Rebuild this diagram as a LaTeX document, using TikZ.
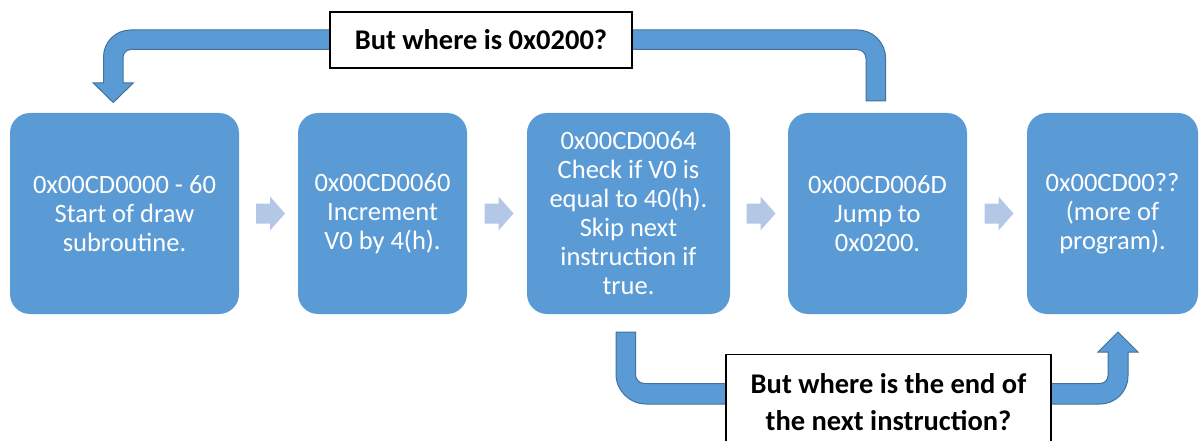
\documentclass[tikz,border=0pt]{standalone}
\usepackage{fontspec}
\setmainfont{Carlito}
\usetikzlibrary{calc}
\definecolor{boxblue}{HTML}{5B9BD5}
\definecolor{edgeblue}{HTML}{41719C}
\definecolor{chevblue}{HTML}{B4C7E7}
\begin{document}
\begin{tikzpicture}[x=1pt,y=-1pt,
  stepbox/.style={fill=boxblue, rounded corners=20pt, minimum height=201pt,
    text=white, align=center, inner sep=0pt,
    font=\fontsize{26.5}{29}\selectfont},
  uarrow/.style={fill=boxblue, draw=edgeblue, line width=1pt, line join=miter},
  note/.style={draw=black, line width=1.3pt, fill=white, align=center,
    inner sep=0pt, font=\bfseries\fontsize{28.5}{37}\selectfont},
  chev/.pic={\fill[chevblue] (-13.5,-10) -- (0.5,-10) -- (0.5,-17) -- (15.5,0)
    -- (0.5,17) -- (0.5,10) -- (-13.5,10) -- cycle;}]
\useasboundingbox (0,0) rectangle (1200,441);
\clip (0,0) rectangle (1200,441);

% program steps
\node[stepbox, minimum width=229pt] (b1) at (124.5,213.5)
  {0x00CD0000 - 60\\Start of draw\\subroutine.};
\node[stepbox, minimum width=169pt] (b2) at (382.5,213.5)
  {0x00CD0060\\Increment\\V0 by 4(h).};
\node[stepbox, minimum width=203pt] (b3) at (628.5,213.5)
  {0x00CD0064\\Check if V0 is\\equal to 40(h).\\Skip next\\instruction if\\true.};
\node[stepbox, minimum width=179pt] (b4) at (877.5,213.5)
  {0x00CD006D\\Jump to\\0x0200.};
\node[stepbox, minimum width=171pt] (b5) at (1112.5,213.5)
  {0x00CD00??\\(more of\\program).};

% flow chevrons between steps
\pic at ($(b1.east)!0.5!(b2.west)+(1,0)$) {chev};
\pic at ($(b2.east)!0.5!(b3.west)+(1,0)$) {chev};
\pic at ($(b3.east)!0.5!(b4.west)+(1,0)$) {chev};
\pic at ($(b4.east)!0.5!(b5.west)+(1,0)$) {chev};

% jump back: from the jump step over the top to the start
\draw[uarrow] (866,101) -- (885.5,101) -- (885.5,58)
  .. controls (885.5,42.54) and (872.96,30) .. (857.5,30)
  -- (130.5,30) .. controls (115.59,30) and (103.5,42.09) .. (103.5,57)
  -- (103.5,83) -- (93.25,83) -- (113.25,102.5) -- (133.25,83) -- (123,83)
  -- (123,57.5) .. controls (123,53.08) and (126.58,49.5) .. (131,49.5)
  -- (857,49.5) .. controls (861.97,49.5) and (866,53.53) .. (866,58.5)
  -- cycle;

% skip: from the check step under the row to the rest of the program
\draw[uarrow] (616,332) -- (616,374)
  .. controls (616,390.57) and (629.43,404) .. (646,404)
  -- (1100,404) .. controls (1115.46,404) and (1128,391.46) .. (1128,376)
  -- (1128,352) -- (1138,352) -- (1118,332) -- (1098,352) -- (1108,352)
  -- (1108,375.5) .. controls (1108,379.92) and (1104.42,383.5) .. (1100,383.5)
  -- (644.5,383.5) .. controls (639.53,383.5) and (635.5,379.47) .. (635.5,374.5)
  -- (635.5,332) -- cycle;

% questions
\node[note, minimum width=302pt, minimum height=56pt] (q1) at (481,40)
  {But where is 0x0200?};
\node[note, minimum width=325pt, minimum height=94pt, anchor=north] (q2)
  at (888.5,354) {But where is the end of\\the next instruction?};
\end{tikzpicture}
\end{document}
